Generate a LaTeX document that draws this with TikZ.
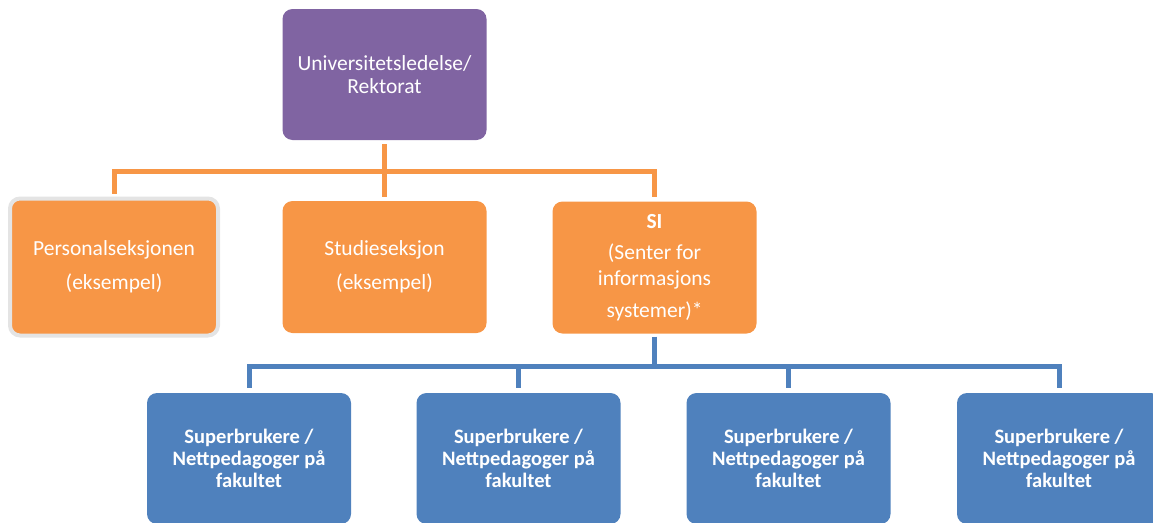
\documentclass[tikz,border=0pt]{standalone}
\usepackage{fontspec}
\setmainfont{Carlito}
\definecolor{purp}{HTML}{8064A2}
\definecolor{orng}{HTML}{F79646}
\definecolor{blu}{HTML}{4F81BD}
\definecolor{lgray}{HTML}{E4E4E4}
\tikzset{
  box/.style={rounded corners=10pt, minimum width=204pt, minimum height=131pt, inner sep=0pt,
    text=white, align=center, font=\fontsize{21.5}{23}\selectfont},
  topbox/.style={box, fill=purp},
  obox/.style={box, fill=orng, minimum height=132pt},
  bbox/.style={box, fill=blu, font=\bfseries\fontsize{20.5}{22}\selectfont},
  oline/.style={draw=orng, line width=5pt},
  bline/.style={draw=blu, line width=5pt},
}
\begin{document}
\begin{tikzpicture}[x=1pt,y=-1pt]
\useasboundingbox (0,0) rectangle (1153,522);
\clip (0,0) rectangle (1153,522);
\node[topbox] (top) at (384.5,74.5) {Universitetsledelse/\\Rektorat};
\node[obox, draw=lgray, line width=4pt, minimum width=208pt, minimum height=137pt] (pers) at (114,267) {Personalseksjonen\\[11pt](eksempel)};
\node[obox] (stud) at (384.5,267) {Studieseksjon\\[11pt](eksempel)};
\node[obox] (si) at (654.5,267.5) {\textbf{SI}\\[8pt](Senter for\\[3pt]informasjons\\[9pt]systemer)*};
\node[bbox] (b1) at (249,458.5) {Superbrukere /\\Nettpedagoger på\\fakultet};
\node[bbox] (b2) at (518.5,458.5) {Superbrukere /\\Nettpedagoger på\\fakultet};
\node[bbox] (b3) at (788.5,458.5) {Superbrukere /\\Nettpedagoger på\\fakultet};
\node[bbox] (b4) at (1059,458.5) {Superbrukere /\\Nettpedagoger på\\fakultet};
\coordinate (ob) at (384.5,171);
\coordinate (bb) at (654.5,366);
\draw[oline, shorten <=4pt] (top.south) -- (ob);
\draw[oline, shorten <=3pt] (pers.north) |- (ob);
\draw[oline, shorten >=4pt] (ob) -| (si.north);
\draw[oline, shorten <=4pt] (stud.north) -- (ob);
\draw[bline, shorten <=3pt] (si.south) -- (bb);
\draw[bline, shorten <=5pt] (b1.north) |- (bb);
\draw[bline, shorten >=5pt] (bb) -| (b4.north);
\draw[bline, shorten <=5pt] (b2.north) -- (b2.north |- bb);
\draw[bline, shorten <=5pt] (b3.north) -- (b3.north |- bb);
\end{tikzpicture}
\end{document}
